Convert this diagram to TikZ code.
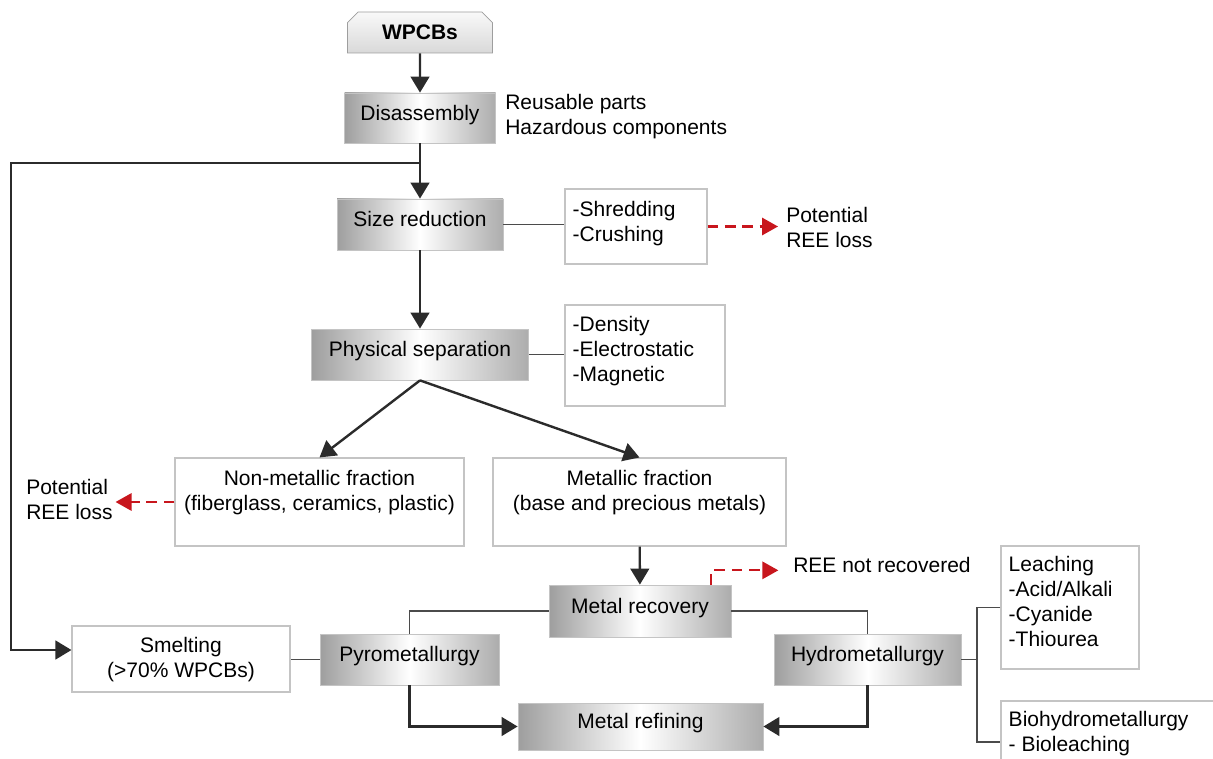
\documentclass[tikz,border=0pt]{standalone}
\usepackage{fontspec}
\setmainfont{Liberation Sans}
\usetikzlibrary{arrows.meta, shapes.misc}
\definecolor{edgegray}{HTML}{9E9E9E}
\definecolor{linegray}{HTML}{C4C4C4}
\definecolor{flowdark}{HTML}{2B2B2B}
\definecolor{losscolor}{HTML}{C8161D}
\begin{document}
\begin{tikzpicture}[x=0.75pt, y=-0.75pt,
    font=\fontsize{15.75}{18.75}\selectfont,
    source/.style={chamfered rectangle, chamfered rectangle corners={north west, north east},
        chamfered rectangle xsep=4pt, chamfered rectangle ysep=4pt,
        draw=edgegray, line width=0.6pt, top color=gray!5, bottom color=gray!30, inner sep=0pt},
    stage/.style={draw=linegray, line width=0.6pt, left color=edgegray, right color=edgegray!85,
        middle color=white, inner sep=0pt, text height=0.75em, text depth=0.4em},
    listbox/.style={draw=linegray, line width=0.8pt, fill=white, inner sep=0pt},
    listtext/.style={anchor=north west, align=left, inner sep=0pt},
    boxtext/.style={anchor=north, align=center, inner sep=0pt},
    note/.style={anchor=west, align=left, inner sep=0pt},
    flow/.style={draw=flowdark, line width=1.8pt, -{Triangle[width=14pt, length=12pt]}},
    link/.style={draw=flowdark!85, line width=0.8pt},
    lossflow/.style={draw=losscolor, line width=1.6pt, dash pattern=on 8pt off 5pt,
        -{Triangle[width=13pt, length=12pt]}, shorten >=6pt}]
    % Page frame
    \clip (0,0) rectangle (1213,759);

    % Input and disassembly
    \node[source, minimum width=108.75pt, minimum height=30.75pt] (wpcb) at (420,32.5) {\textbf{WPCBs}};
    \node[stage, minimum width=113.25pt, minimum height=37.5pt] (disasm) at (420,118) {Disassembly};
    \node[note] (parts) at (505,117) {Reusable parts\\Hazardous components};

    % Size reduction
    \node[stage, minimum width=124.5pt, minimum height=38.25pt] (sizered) at (420,224.5) {Size reduction};
    \node[listbox, minimum width=106.5pt, minimum height=56.25pt] (shred) at (636,226.5) {};
    \node[listtext] at ([xshift=6pt, yshift=-9.5pt]shred.north west) {-Shredding\\-Crushing};
    \node[note] (lossone) at (786,227) {Potential\\REE loss};

    % Physical separation
    \node[stage, minimum width=162.75pt, minimum height=38.25pt] (physsep) at (420,354.5) {Physical separation};
    \node[listbox, minimum width=120pt, minimum height=75.75pt] (sepway) at (645,355.5) {};
    \node[listtext] at ([xshift=6pt, yshift=-9pt]sepway.north west) {-Density\\-Electrostatic\\-Magnetic};

    % Fractions
    \node[listbox, minimum width=216.75pt, minimum height=66pt] (nonmet) at (319.5,502) {};
    \node[boxtext] at ([yshift=-9.5pt]nonmet.north) {Non-metallic fraction\\(fiberglass, ceramics, plastic)};
    \node[listbox, minimum width=219.75pt, minimum height=66pt] (met) at (639.5,502) {};
    \node[boxtext] at ([yshift=-9.5pt]met.north) {Metallic fraction\\(base and precious metals)};
    \node[note] (losstwo) at (26,499) {Potential\\REE loss};

    % Metal recovery routes
    \node[stage, minimum width=136.5pt, minimum height=39pt] (metrec) at (640,611) {Metal recovery};
    \node[note] (notrec) at (793,565) {REE not recovered};
    \node[stage, minimum width=134.25pt, minimum height=38.25pt] (pyro) at (409.5,659.5) {Pyrometallurgy};
    \node[stage, minimum width=140.25pt, minimum height=38.25pt] (hydro) at (867.5,659.5) {Hydrometallurgy};
    \node[listbox, minimum width=163.5pt, minimum height=49.5pt] (smelt) at (181,659) {};
    \node[boxtext] at ([yshift=-9pt]smelt.north) {Smelting\\(>70\% WPCBs)};
    \node[stage, minimum width=183.75pt, minimum height=35.25pt] (refine) at (640.5,726.5) {Metal refining};

    % Hydrometallurgy options
    \node[listbox, minimum width=103.5pt, minimum height=92.25pt] (leach) at (1070,607.5) {};
    \node[listtext] at ([xshift=6pt, yshift=-8pt]leach.north west) {Leaching\\-Acid/Alkali\\-Cyanide\\-Thiourea};
    \node[listbox, minimum width=168pt, minimum height=61.5pt] (bio) at (1113,742) {};
    \node[listtext] at ([xshift=6pt, yshift=-8pt]bio.north west) {Biohydrometallurgy\\- Bioleaching};

    % Main flow
    \draw[flow] (wpcb) -- (disasm);
    \draw[flow] (disasm) -- (sizered);
    \coordinate (fork) at (420,163);
    \draw[flow] (fork) -- ++(-409,0) |- ([yshift=6.75pt]smelt.west);
    \draw[flow] (sizered) -- (physsep);
    \draw[flow] (physsep.south) -- (nonmet.north);
    \draw[flow] (physsep.south) -- (met.north);
    \draw[flow] (met) -- (metrec);
    \draw[flow] (pyro.south) |- (refine.west);
    \draw[flow] (hydro.south) |- (refine.east);

    % Side links
    \draw[link] (sizered.east) -- (sizered.east -| shred.west);
    \draw[link] (physsep.east) -- (physsep.east -| sepway.west);
    \draw[link] (metrec.west) -| (pyro.north);
    \draw[link] (metrec.east) -| (hydro.north);
    \draw[link] (pyro.west) -- (pyro.west -| smelt.east);
    \coordinate (split) at (977,659.5);
    \draw[link] (hydro.east) -- (split);
    \draw[link] (leach.west) -| (split) |- (bio.west);

    % REE losses
    \draw[lossflow] (shred.east) -- (shred.east -| lossone.west);
    \draw[lossflow, shorten >=2pt] (nonmet.west) -- (nonmet.west -| losstwo.east);
    \draw[lossflow, shorten >=11pt] ([xshift=-15pt]metrec.north east) |- ([yshift=-4pt]notrec.west);
\end{tikzpicture}
\end{document}
